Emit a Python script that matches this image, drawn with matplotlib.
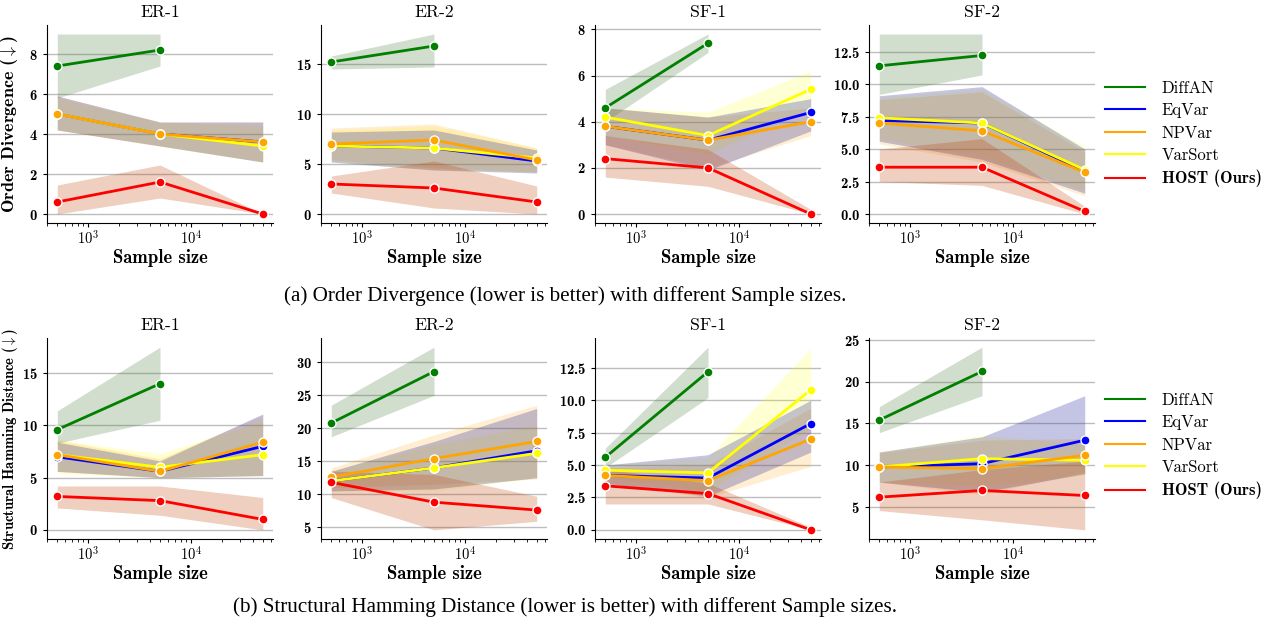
import numpy as np
import matplotlib
matplotlib.use("Agg")
import matplotlib.pyplot as plt
from matplotlib.ticker import MultipleLocator, FuncFormatter

plt.rcParams['font.family'] = 'cmr10'
plt.rcParams['mathtext.fontset'] = 'cm'
plt.rcParams['axes.formatter.use_mathtext'] = True
plt.rcParams['axes.unicode_minus'] = False

nan = np.nan
sizes = [500, 5000, 50000]
methods = ["DiffAN", "EqVar", "NPVar", "VarSort", "HOST (Ours)"]
graphs = ["ER-1", "ER-2", "SF-1", "SF-2"]

# ---- Order Divergence: mean, lower band, upper band (rows follow `methods`)
OD_ER1_MEAN = [[7.4, 8.2, nan], [5.0, 4.0, 3.6], [5.0, 4.0, 3.6], [5.0, 4.0, 3.4], [0.6, 1.6, 0.0]]
OD_ER1_LO = [[5.8, 7.4, nan], [4.2, 3.4, 2.6], [4.2, 3.4, 2.6], [4.2, 3.4, 2.6], [0.0, 0.8, 0.0]]
OD_ER1_HI = [[9.0, 9.0, nan], [5.9, 4.6, 4.6], [5.9, 4.6, 4.6], [5.8, 4.6, 4.4], [1.45, 2.45, 0.0]]

OD_ER2_MEAN = [[15.2, 16.8, nan], [6.8, 6.6, 5.3], [7.0, 7.4, 5.4], [6.8, 6.6, 5.6], [3.0, 2.6, 1.2]]
OD_ER2_LO = [[14.5, 14.7, nan], [5.2, 4.4, 4.1], [5.4, 4.6, 4.2], [5.2, 4.4, 4.2], [2.1, 0.6, 0.0]]
OD_ER2_HI = [[15.8, 18.0, nan], [8.2, 8.4, 6.4], [8.6, 9.0, 6.6], [8.4, 8.8, 6.6], [3.8, 5.3, 2.8]]

OD_SF1_MEAN = [[4.6, 7.4, nan], [3.8, 3.2, 4.4], [3.8, 3.2, 4.0], [4.2, 3.4, 5.4], [2.4, 2.0, 0.0]]
OD_SF1_LO = [[4.0, 7.0, nan], [3.0, 1.9, 3.6], [3.0, 2.0, 3.4], [3.4, 2.6, 4.6], [1.6, 1.2, 0.0]]
OD_SF1_HI = [[5.4, 7.8, nan], [4.6, 4.2, 5.0], [4.6, 4.2, 4.6], [4.6, 4.4, 6.2], [3.4, 2.8, 0.2]]

OD_SF2_MEAN = [[11.4, 12.2, nan], [7.2, 7.0, 3.3], [7.0, 6.4, 3.2], [7.4, 7.0, 3.4], [3.6, 3.6, 0.2]]
OD_SF2_LO = [[9.2, 10.7, nan], [5.6, 4.2, 1.6], [5.4, 4.0, 1.4], [5.8, 4.4, 1.8], [2.5, 2.2, 0.0]]
OD_SF2_HI = [[13.85, 13.85, nan], [9.1, 9.8, 5.0], [8.8, 9.4, 4.8], [9.0, 9.6, 5.2], [5.0, 5.8, 0.6]]

# ---- Structural Hamming Distance
SHD_ER1_MEAN = [[9.6, 14.0, nan], [7.0, 5.6, 8.0], [7.2, 5.6, 8.4], [7.2, 6.0, 7.2], [3.2, 2.8, 1.0]]
SHD_ER1_LO = [[8.3, 10.5, nan], [5.6, 5.0, 5.2], [5.6, 5.0, 5.2], [5.4, 5.0, 5.2], [2.1, 1.4, 0.0]]
SHD_ER1_HI = [[11.4, 17.5, nan], [8.4, 6.6, 11.1], [8.6, 6.8, 11.0], [8.6, 7.3, 10.4], [4.2, 4.2, 3.1]]

SHD_ER2_MEAN = [[20.8, 28.6, nan], [12.0, 14.0, 16.6], [12.6, 15.4, 18.0], [12.0, 14.0, 16.2], [11.8, 8.8, 7.6]]
SHD_ER2_LO = [[18.7, 25.0, nan], [10.5, 10.8, 12.5], [11.0, 11.5, 12.3], [10.5, 10.5, 12.5], [9.5, 4.6, 5.9]]
SHD_ER2_HI = [[23.5, 32.3, nan], [13.5, 18.0, 23.0], [14.0, 19.0, 23.5], [13.5, 17.5, 20.5], [13.5, 13.0, 9.7]]

SHD_SF1_MEAN = [[5.6, 12.2, nan], [4.2, 4.0, 8.2], [4.2, 3.8, 7.0], [4.6, 4.4, 10.8], [3.4, 2.8, 0.0]]
SHD_SF1_LO = [[4.8, 10.2, nan], [3.6, 2.6, 6.0], [3.6, 2.5, 4.9], [4.0, 3.0, 7.8], [2.0, 2.0, 0.0]]
SHD_SF1_HI = [[6.3, 14.1, nan], [5.0, 5.8, 10.0], [4.8, 5.0, 9.4], [5.0, 5.6, 14.0], [4.7, 3.6, 0.2]]

SHD_SF2_MEAN = [[15.4, 21.2, nan], [9.8, 10.2, 13.0], [9.8, 9.6, 11.2], [9.8, 10.8, 10.6], [6.2, 7.0, 6.4]]
SHD_SF2_LO = [[13.9, 18.3, nan], [8.0, 6.8, 9.0], [8.0, 6.5, 9.2], [8.0, 7.5, 8.8], [4.6, 3.5, 2.3]]
SHD_SF2_HI = [[17.0, 24.1, nan], [11.6, 13.4, 18.3], [11.5, 13.0, 13.2], [11.6, 13.6, 12.5], [8.0, 9.5, 10.5]]

rows = [
    {"ylabel": r"Order Divergence ($\downarrow$)", "ysize": 13,
     "caption": "(a) Order Divergence (lower is better) with different Sample sizes.",
     "panels": [(OD_ER1_MEAN, OD_ER1_LO, OD_ER1_HI), (OD_ER2_MEAN, OD_ER2_LO, OD_ER2_HI),
                (OD_SF1_MEAN, OD_SF1_LO, OD_SF1_HI), (OD_SF2_MEAN, OD_SF2_LO, OD_SF2_HI)],
     "steps": [2, 5, 2, 2.5]},
    {"ylabel": r"Structural Hamming Distance ($\downarrow$)", "ysize": 10.5,
     "caption": "(b) Structural Hamming Distance (lower is better) with different Sample sizes.",
     "panels": [(SHD_ER1_MEAN, SHD_ER1_LO, SHD_ER1_HI), (SHD_ER2_MEAN, SHD_ER2_LO, SHD_ER2_HI),
                (SHD_SF1_MEAN, SHD_SF1_LO, SHD_SF1_HI), (SHD_SF2_MEAN, SHD_SF2_LO, SHD_SF2_HI)],
     "steps": [5, 5, 2.5, 5]},
]

line_colors = ["green", "blue", "orange", "yellow", "red"]
band_colors = ["#4a7a3a", "#2828a0", "orange", "yellow", "#c04000"]
band_alpha = [0.25, 0.27, 0.18, 0.17, 0.25]
band_order = [3, 2, 1, 0, 4]
line_order = [0, 1, 3, 2, 4]

W, H = 1274, 628
fig = plt.figure(figsize=(W / 100, H / 100), dpi=100)

lefts = [47, 321, 595, 869]
row_box = [(25, 223), (338, 539)]   # top, bottom in pixels
caption_y = [296, 607]
legend_y = [134, 446]

log_fmt = FuncFormatter(lambda v, p: r"$\mathbf{10^{%d}}$" % round(np.log10(v)))

for r, row in enumerate(rows):
    top, bot = row_box[r]
    for c, (mean, lo, hi) in enumerate(row["panels"]):
        ax = fig.add_axes([lefts[c] / W, 1 - bot / H, 226 / W, (bot - top) / H])
        for m in band_order:
            ax.fill_between(sizes, lo[m], hi[m], color=band_colors[m], alpha=band_alpha[m], lw=0)
        for m in line_order:
            ax.plot(sizes, mean[m], color=line_colors[m], lw=2, marker='o', ms=6.5,
                    mec='white', mew=1, label=methods[m])
        ax.set_xscale('log')
        ax.xaxis.set_major_formatter(log_fmt)
        ax.yaxis.set_major_locator(MultipleLocator(row["steps"][c]))
        ax.grid(axis='y', color='#bdbdbd', lw=1)
        ax.set_axisbelow(True)
        for s in ['top', 'right']:
            ax.spines[s].set_visible(False)
        ax.tick_params(labelsize=10.5, length=3)
        ax.tick_params(axis='x', pad=2)
        for t in ax.get_yticklabels():
            t.set_fontfamily('cmb10')
        ax.set_title(graphs[c], fontsize=12.7)
        ax.set_xlabel("Sample size", fontsize=13.4, fontfamily='cmb10', labelpad=1)
        if c == 0:
            ax.set_ylabel(row["ylabel"], fontsize=row["ysize"], fontfamily='cmb10')
            ax.yaxis.set_label_coords(-0.118, 0.5)
        if c == 3:
            handles = [plt.Line2D([], [], color=line_colors[m], lw=1.5) for m in range(len(methods))]
            leg = fig.legend(handles, methods, loc='center left', frameon=False, fontsize=12,
                             bbox_to_anchor=(1090 / W, 1 - legend_y[r] / H), handlelength=2.4,
                             labelspacing=0.42, handletextpad=1.0)
            leg.get_texts()[-1].set_fontfamily('cmb10')
    fig.text(565 / W, 1 - caption_y[r] / H, row["caption"], ha='center', va='center',
             fontsize=15.2, family='Liberation Serif')

fig.savefig("out.png", dpi=100)
